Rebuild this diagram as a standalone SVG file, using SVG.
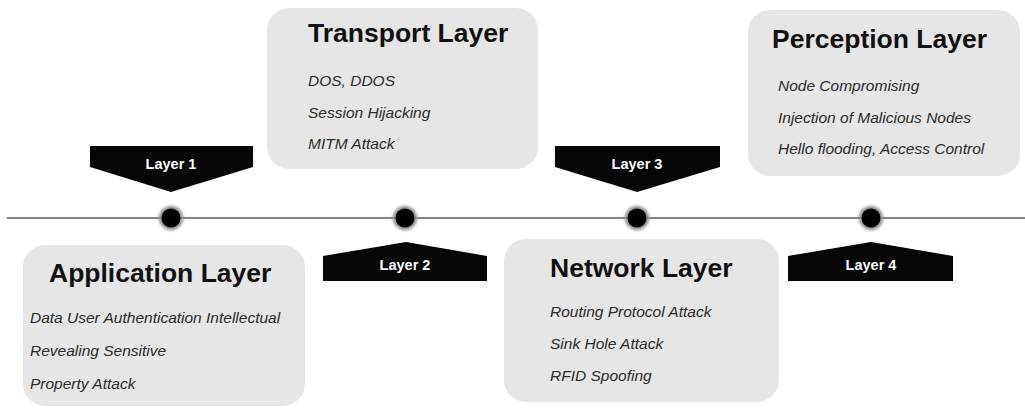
<svg xmlns="http://www.w3.org/2000/svg" width="1025" height="409" viewBox="0 0 1025 409">
  <style>
    .box { fill: #e6e6e6; }
    .title { font-family: "Liberation Sans", Arial, sans-serif; font-weight: bold; font-size: 26.5px; fill: #111111; }
    .item { font-family: "Liberation Sans", Arial, sans-serif; font-style: italic; font-size: 15.5px; fill: #2b2b2b; }
    .tag { fill: #050505; }
    .tag-text { font-family: "Liberation Sans", Arial, sans-serif; font-weight: bold; font-size: 14.5px; fill: #ffffff; text-anchor: middle; }
    .axis { stroke: #858585; stroke-width: 2.2; fill: none; }
    .halo { fill: #8a8a8a; filter: url(#soft); }
    .dot { fill: #000000; }
  </style>
  <defs>
    <filter id="soft" x="-50%" y="-50%" width="200%" height="200%">
      <feGaussianBlur stdDeviation="1.6"/>
    </filter>
  </defs>

  <rect width="1025" height="409" fill="#ffffff"/>

  <!-- timeline axis with its four stops -->
  <g id="connectors">
    <line class="axis" x1="7" y1="218" x2="1025" y2="218"/>
    <circle class="halo" cx="171" cy="218" r="12"/>
    <circle class="dot" cx="171" cy="218" r="9.5"/>
    <circle class="halo" cx="405" cy="218" r="12"/>
    <circle class="dot" cx="405" cy="218" r="9.5"/>
    <circle class="halo" cx="637" cy="218" r="12"/>
    <circle class="dot" cx="637" cy="218" r="9.5"/>
    <circle class="halo" cx="871" cy="218" r="12"/>
    <circle class="dot" cx="871" cy="218" r="9.5"/>
  </g>

  <!-- layer tags pointing at the axis -->
  <g id="tag-layer1">
    <polygon class="tag" points="90,146 253,146 253,167 171,192 90,167"/>
    <text class="tag-text" x="171" y="169">Layer 1</text>
  </g>
  <g id="tag-layer2">
    <polygon class="tag" points="406,242 487,256 487,281 323,281 323,256"/>
    <text class="tag-text" x="405" y="270">Layer 2</text>
  </g>
  <g id="tag-layer3">
    <polygon class="tag" points="555,146 720,146 720,167 637,192 555,167"/>
    <text class="tag-text" x="637" y="169">Layer 3</text>
  </g>
  <g id="tag-layer4">
    <polygon class="tag" points="871,242 953,256 953,281 788,281 788,256"/>
    <text class="tag-text" x="871" y="270">Layer 4</text>
  </g>

  <!-- layer cards -->
  <g id="application-layer">
    <rect class="box" x="23" y="245" width="282" height="161" rx="22"/>
    <text class="title" x="49" y="282">Application Layer</text>
    <text class="item" x="30" y="323">Data User Authentication Intellectual</text>
    <text class="item" x="30" y="356">Revealing Sensitive</text>
    <text class="item" x="30" y="389">Property Attack</text>
  </g>

  <g id="transport-layer">
    <rect class="box" x="267" y="8" width="271" height="161" rx="22"/>
    <text class="title" x="308" y="42">Transport Layer</text>
    <text class="item" x="308" y="86">DOS, DDOS</text>
    <text class="item" x="308" y="118">Session Hijacking</text>
    <text class="item" x="308" y="149">MITM Attack</text>
  </g>

  <g id="network-layer">
    <rect class="box" x="504" y="239" width="275" height="163" rx="22"/>
    <text class="title" x="550" y="277">Network Layer</text>
    <text class="item" x="550" y="317">Routing Protocol Attack</text>
    <text class="item" x="550" y="349">Sink Hole Attack</text>
    <text class="item" x="550" y="381">RFID Spoofing</text>
  </g>

  <g id="perception-layer">
    <rect class="box" x="748" y="10" width="272" height="166" rx="22"/>
    <text class="title" x="772" y="48">Perception Layer</text>
    <text class="item" x="778" y="91">Node Compromising</text>
    <text class="item" x="778" y="123">Injection of Malicious Nodes</text>
    <text class="item" x="778" y="154">Hello flooding, Access Control</text>
  </g>
</svg>
